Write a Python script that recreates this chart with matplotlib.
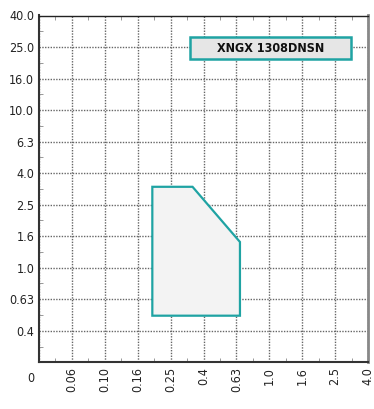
import numpy as np
import matplotlib
matplotlib.use("Agg")
import matplotlib.pyplot as plt
from matplotlib.patches import Polygon, Rectangle
from matplotlib.ticker import FixedLocator

plt.rcParams['font.family'] = ['DejaVu Sans']
plt.rcParams['font.stretch'] = 'condensed'

# axis tick values (non-uniform, equally spaced on the chart)
x_ticks = [0, 0.06, 0.10, 0.16, 0.25, 0.4, 0.63, 1.0, 1.6, 2.5, 4.0]
x_labels = ["", "0.06", "0.10", "0.16", "0.25", "0.4", "0.63", "1.0", "1.6", "2.5", "4.0"]
y_ticks = [0, 0.4, 0.63, 1.0, 1.6, 2.5, 4.0, 6.3, 10.0, 16.0, 25.0, 40.0]
y_labels = ["", "0.4", "0.63", "1.0", "1.6", "2.5", "4.0", "6.3", "10.0", "16.0", "25.0", "40.0"]

# working area (feed f in mm/rev, depth of cut ap in mm)
area_f = [0.20, 0.20, 0.35, 0.67, 0.67]
area_ap = [0.51, 3.35, 3.35, 1.49, 0.51]

title = "XNGX 1308DNSN"

teal = "#1fa3a3"

xi = np.arange(len(x_ticks), dtype=float)
yi = np.arange(len(y_ticks), dtype=float)

def fx(v):
    return np.interp(v, x_ticks, xi)
def ifx(i):
    return np.interp(i, xi, x_ticks)
def fy(v):
    return np.interp(v, y_ticks, yi)
def ify(i):
    return np.interp(i, yi, y_ticks)

fig = plt.figure(figsize=(3.74, 4.09), dpi=100)
ax = fig.add_axes([39/374, 1 - 362.3/409, (368-39)/374, (362.3-15.5)/409])
ax.set_xscale('function', functions=(fx, ifx))
ax.set_yscale('function', functions=(fy, ify))
ax.set_xlim(0, 4.0)
ax.set_ylim(0, 40.0)

ax.xaxis.set_major_locator(FixedLocator(x_ticks))
ax.yaxis.set_major_locator(FixedLocator(y_ticks))
ax.set_xticklabels(x_labels, rotation=90, fontsize=9)
ax.set_yticklabels(y_labels, fontsize=9)

x_mid = [ifx(i + 0.5) for i in xi[:-1]]
y_mid = [ify(i + 0.5) for i in yi[:-1]]
ax.xaxis.set_minor_locator(FixedLocator(x_mid))
ax.yaxis.set_minor_locator(FixedLocator(y_mid))

ax.tick_params(which='major', length=0, pad=3.4, colors='#222222')
ax.tick_params(which='minor', direction='in', length=3, width=0.6, color='#888888',
               top=True, right=False)

ax.grid(True, which='major', linestyle=(0, (1, 1)), linewidth=1.0, color='#666666')
ax.set_axisbelow(True)

for s in ['left', 'bottom']:
    ax.spines[s].set_linewidth(1.5)
    ax.spines[s].set_color('#333333')
ax.spines['top'].set_linewidth(1.0)
ax.spines['top'].set_color('#222222')
ax.spines['right'].set_linewidth(2.0)
ax.spines['right'].set_color('#888888')

pts = np.column_stack([area_f, area_ap])
ax.add_patch(Polygon(pts, closed=True, facecolor='#f3f3f3', edgecolor=teal,
                     linewidth=1.6, zorder=3))

ax.add_patch(Rectangle((0.459, 0.8746), 0.948 - 0.459, 0.937 - 0.8746,
                       transform=ax.transAxes, facecolor='#e6e6e6', edgecolor=teal,
                       linewidth=1.8, zorder=4))
ax.text(0.7036, 0.906, title, transform=ax.transAxes, ha='center', va='center',
        fontsize=9, fontweight='bold', color='#111111', zorder=5)

fig.text(31/374, 1 - 378/409, "0", ha='center', va='center', fontsize=9, color='#222222')

fig.savefig("out.png", dpi=100)
